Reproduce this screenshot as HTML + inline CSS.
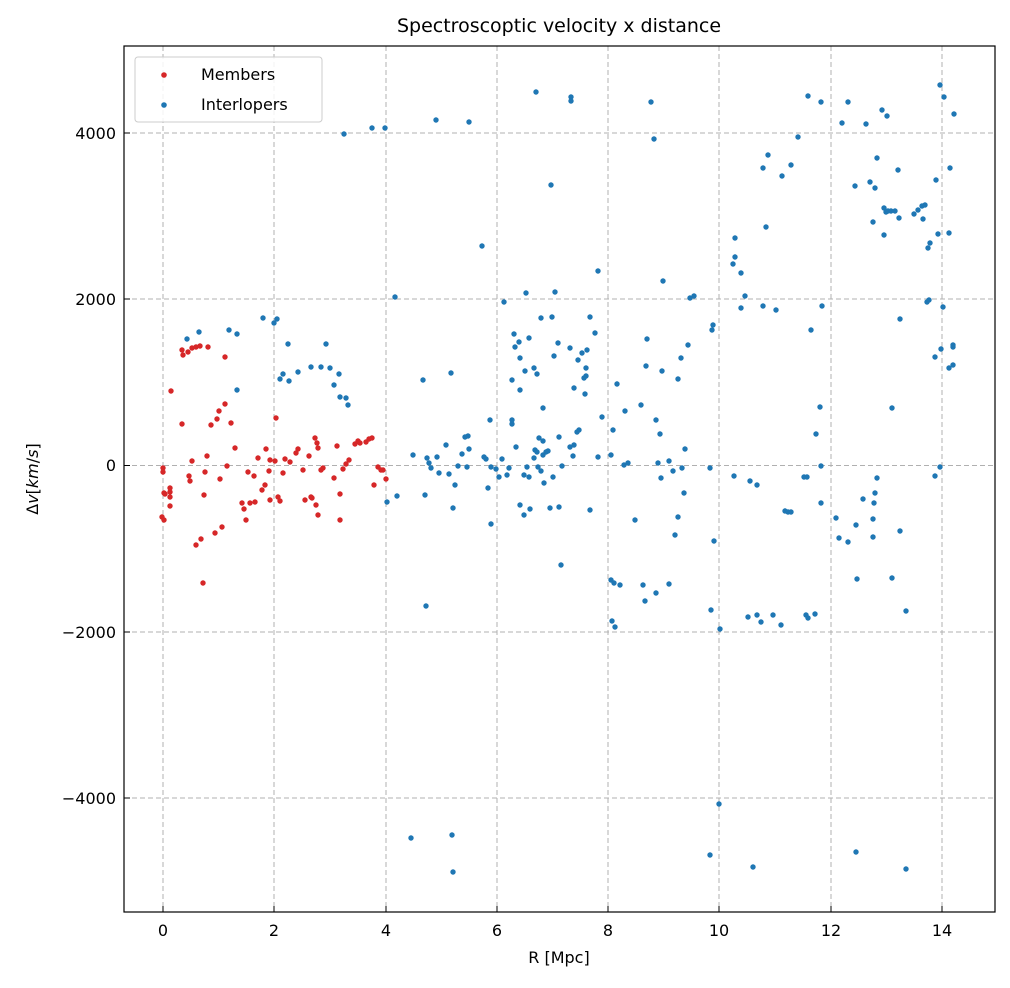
<!DOCTYPE html>
<html><head><meta charset="utf-8"><style>
body{margin:0;background:#fff;}
text{font-family:"DejaVu Sans","Liberation Sans",sans-serif;fill:#000;}
</style></head><body>
<svg width="1010" height="983" xmlns="http://www.w3.org/2000/svg">
<rect width="1010" height="983" fill="#fff"/>
<g stroke="#b0b0b0" stroke-width="1" stroke-dasharray="5,3">
<line x1="163" y1="46" x2="163" y2="912"/><line x1="274" y1="46" x2="274" y2="912"/>
<line x1="386" y1="46" x2="386" y2="912"/><line x1="497" y1="46" x2="497" y2="912"/>
<line x1="608" y1="46" x2="608" y2="912"/><line x1="719" y1="46" x2="719" y2="912"/>
<line x1="831" y1="46" x2="831" y2="912"/><line x1="942" y1="46" x2="942" y2="912"/>
<line x1="124" y1="133" x2="995" y2="133"/><line x1="124" y1="299" x2="995" y2="299"/>
<line x1="124" y1="465.5" x2="995" y2="465.5"/><line x1="124" y1="632" x2="995" y2="632"/>
<line x1="124" y1="798" x2="995" y2="798"/>
</g>
<g fill="#d62728" id="red"></g>
<g fill="#1f77b4" id="blue"></g>
<rect x="124" y="46" width="871" height="866" fill="none" stroke="#000" stroke-width="1.2"/>
<g stroke="#000" stroke-width="1">
<line x1="163" y1="912" x2="163" y2="906"/><line x1="274" y1="912" x2="274" y2="906"/>
<line x1="386" y1="912" x2="386" y2="906"/><line x1="497" y1="912" x2="497" y2="906"/>
<line x1="608" y1="912" x2="608" y2="906"/><line x1="719" y1="912" x2="719" y2="906"/>
<line x1="831" y1="912" x2="831" y2="906"/><line x1="942" y1="912" x2="942" y2="906"/>
<line x1="124" y1="133" x2="130" y2="133"/><line x1="124" y1="299" x2="130" y2="299"/>
<line x1="124" y1="465.5" x2="130" y2="465.5"/><line x1="124" y1="632" x2="130" y2="632"/>
<line x1="124" y1="798" x2="130" y2="798"/>
</g>
<g font-size="16" text-anchor="middle">
<text x="163" y="936">0</text><text x="274" y="936">2</text><text x="386" y="936">4</text>
<text x="497" y="936">6</text><text x="608" y="936">8</text><text x="719" y="936">10</text>
<text x="831" y="936">12</text><text x="942" y="936">14</text>
<text x="559" y="963">R [Mpc]</text>
<text x="559" y="32" font-size="19">Spectroscoptic velocity x distance</text>
</g>
<g font-size="16" text-anchor="end">
<text x="116" y="139">4000</text><text x="116" y="305">2000</text><text x="116" y="471">0</text>
<text x="116" y="638">−2000</text><text x="116" y="804">−4000</text>
</g>
<text transform="translate(38,479) rotate(-90)" font-size="16" text-anchor="middle">Δ<tspan font-style="italic">v</tspan>[<tspan font-style="italic">km</tspan>/<tspan font-style="italic">s</tspan>]</text>
<rect x="135" y="57" width="187" height="65" rx="3" fill="#fff" fill-opacity="0.85" stroke="#ccc"/>
<circle cx="164" cy="75" r="2.8" fill="#d62728"/><circle cx="164" cy="105" r="2.8" fill="#1f77b4"/>
<text x="201" y="80" font-size="16">Members</text><text x="201" y="110" font-size="16">Interlopers</text>
</svg>
<script>
var R=[163,468,163,472,164,493,162,517,164,520,165,494,170,488,170,492,170,497,171,391,170,506,182,424,183,355,182,350,188,352,192,348,196,347,200,346,190,481,189,476,192,461,196,545,201,539,203,583,205,472,204,495,207,456,208,347,211,425,215,533,219,411,217,419,220,479,222,527,225,404,225,357,227,466,231,423,235,448,242,503,244,509,246,520,248,472,250,503,254,476,258,458,262,490,265,485,266,449,269,471,270,460,275,461,276,418,278,497,280,501,283,473,285,459,290,462,296,453,298,449,303,470,309,456,311,497,315,438,317,443,318,515,318,448,321,470,323,468,334,478,337,446,340,494,343,469,346,464,349,460,355,444,358,441,360,443,366,442,369,439,372,438,374,485,378,467,381,470,383,470,386,479,316,505,312,498,270,500,305,500,340,520,255,502];
var B=[187,339,199,332,229,330,237,334,237,390,263,318,274,323,277,319,280,379,283,374,288,344,289,381,298,372,311,367,321,367,326,344,330,368,334,385,339,374,340,397,346,398,348,405,344,134,372,128,385,128,395,297,397,496,387,502,413,455,423,380,425,495,427,458,429,463,431,468,439,473,437,457,446,445,449,474,455,485,458,466,467,467,468,436,469,449,453,508,426,606,411,838,452,835,453,872,436,120,469,122,482,246,484,457,486,459,488,488,490,420,491,467,491,524,496,469,499,477,509,468,512,424,515,347,519,342,520,358,516,447,520,390,524,475,524,515,527,467,529,477,530,509,534,458,535,450,537,452,539,438,541,471,543,455,546,452,548,451,544,483,520,505,553,477,555,292,554,356,558,343,559,507,536,92,551,185,534,368,537,374,543,408,559,437,562,466,570,447,574,445,573,456,579,430,570,348,578,360,585,394,590,510,590,317,595,333,598,271,598,457,602,417,571,97,571,101,651,102,654,139,735,238,766,227,763,168,768,155,782,176,791,165,798,137,808,96,821,102,842,123,848,102,866,124,877,158,882,110,887,116,873,222,875,188,870,182,884,208,886,212,888,211,891,211,895,211,884,235,898,170,899,218,914,214,918,210,922,206,923,219,925,205,928,248,930,243,936,180,940,85,944,97,950,168,954,114,949,233,938,234,927,302,929,300,943,307,935,357,941,349,953,347,953,345,953,365,949,368,900,319,892,408,877,478,875,493,874,503,873,519,873,537,856,525,848,542,836,518,863,499,821,503,821,466,820,407,816,434,822,306,855,186,811,330,804,477,807,477,776,310,763,306,745,296,741,273,741,308,733,264,735,257,734,476,750,481,757,485,761,622,773,615,785,511,788,512,791,512,808,618,806,615,839,538,857,579,892,578,900,531,935,476,940,467,906,611,906,869,710,855,753,867,856,852,815,614,781,625,757,615,748,617,711,610,714,541,719,804,720,629,710,468,713,325,712,330,694,296,690,298,688,345,678,379,681,358,685,449,682,468,684,493,678,517,675,535,673,471,669,584,656,593,645,601,643,585,635,520,615,627,612,621,611,580,614,583,611,455,613,430,620,585,628,463,624,465,586,376,586,368,582,353,587,350,584,378,577,432,574,388,561,565,550,508,552,317,541,318,526,293,504,302,514,334,529,338,525,371,512,380,512,420,543,441,538,467,507,475,502,459,465,437,462,454,451,373,617,384,625,411,641,405,646,366,647,339,656,420,658,463,661,478,662,371,663,281,660,434,669,461];
function put(id,a){var g=document.getElementById(id),s='';for(var i=0;i<a.length;i+=2)s+='<circle cx="'+a[i]+'" cy="'+a[i+1]+'" r="2.7"/>';g.innerHTML=s;}
put('red',R);put('blue',B);
</script>
</body></html>
